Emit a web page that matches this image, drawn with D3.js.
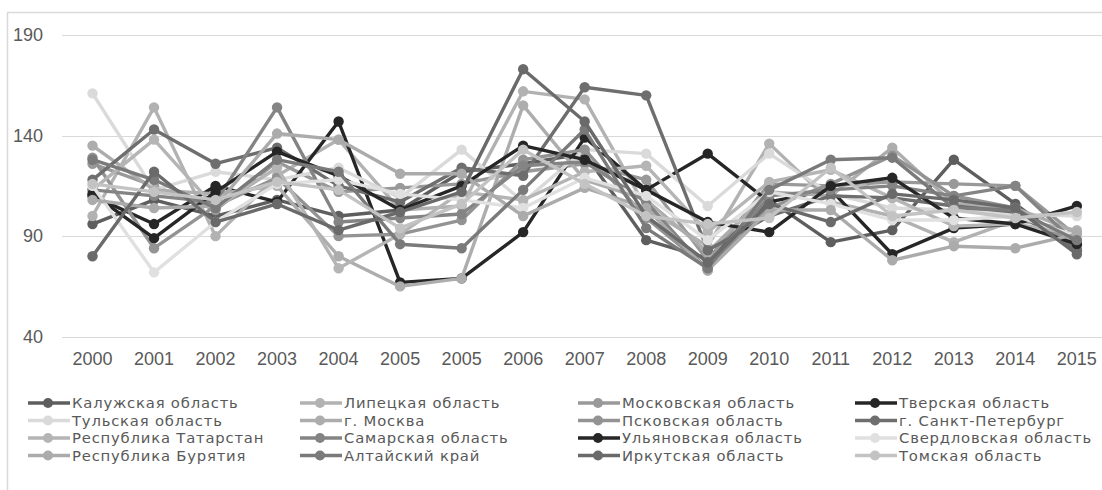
<!DOCTYPE html>
<html><head><meta charset="utf-8">
<script src="https://cdn.jsdelivr.net/npm/d3@7"></script>
<style>
html,body{margin:0;padding:0;background:#fff;}
svg{display:block;font-family:"Liberation Sans",Arial,sans-serif;}
</style></head>
<body><svg id="chart" width="1102" height="490"></svg>
<script>
const categories = ["2000","2001","2002","2003","2004","2005","2005","2006","2007","2008","2009","2010","2011","2012","2013","2014","2015"];
const yTicks = [40, 90, 140, 190];
const seriesNames = ["Калужская область","Липецкая область","Московская область","Тверская область",
  "Тульская область","г. Москва","Псковская область","г. Санкт-Петербург",
  "Республика Татарстан","Самарская область","Ульяновская область","Свердловская область",
  "Республика Бурятия","Алтайский край","Иркутская область","Томская область"];
const seriesColors = ["#5e5e5e","#b2b2b2","#999999","#262626",
  "#dadada","#adadad","#939393","#6e6e6e",
  "#b5b5b5","#848484","#262626","#e0e0e0",
  "#ababab","#7a7a7a","#6a6a6a","#c3c3c3"];
const kaluga     = [96,108,100,108,100,103,122,126,131,88,79,108,87,93,128,106,83];
const lipetsk    = [100,154,90,120,138,103,105,162,158,104,85,136,107,100,87,98,93];
const moscowObl  = [126,115,103,127,112,114,116,122,126,118,78,116,115,117,116,115,90];
const tver       = [110,96,115,107,147,67,69,92,139,113,131,107,113,81,94,96,105];
const tula       = [161,113,122,118,124,109,133,107,133,131,105,131,111,104,103,101,100];
const moscow     = [135,113,111,115,80,65,69,155,118,108,82,112,110,134,106,104,92];
const pskov      = [129,84,105,119,90,91,98,128,133,99,74,104,116,130,110,104,85];
const spb        = [118,143,126,134,115,107,124,120,164,160,83,100,110,109,105,102,83];
const tatarstan  = [113,138,104,124,74,91,112,108,122,125,92,117,123,109,95,96,91];
const samara     = [113,110,107,154,97,99,101,125,127,107,73,110,113,115,110,115,86];
const ulyanovsk  = [111,89,112,132,120,103,115,135,128,113,97,92,115,119,99,96,86];
const sverdlovsk = [115,72,97,116,118,111,108,104,119,110,88,112,106,98,98,100,90];
const buryatia   = [108,104,105,141,138,121,121,100,114,104,73,103,103,78,85,84,91];
const altai      = [128,118,104,128,122,86,84,113,143,94,74,113,128,129,104,103,88];
const irkutsk    = [80,122,97,106,93,102,112,173,147,100,77,106,97,111,108,104,81];
const tomsk      = [116,112,108,117,113,94,106,133,116,100,96,99,124,100,103,99,102];
const seriesValues = [kaluga,lipetsk,moscowObl,tver,tula,moscow,pskov,spb,
  tatarstan,samara,ulyanovsk,sverdlovsk,buryatia,altai,irkutsk,tomsk];

const svg = d3.select("#chart");
// outer chart frame
svg.append("rect").attr("x",7.5).attr("y",12.5).attr("width",1110).attr("height",490)
  .attr("fill","none").attr("stroke","#d9d9d9").attr("stroke-width",1.5);

const x = d3.scaleBand().domain(d3.range(categories.length)).range([61.75,1107.6]);
const y = d3.scaleLinear().domain([40,190]).range([336.7,35]);

// gridlines
svg.append("g").selectAll("line").data(yTicks).join("line")
  .attr("x1",62).attr("x2",1102)
  .attr("y1",d=>Math.round(y(d))+0.5).attr("y2",d=>Math.round(y(d))+0.5)
  .attr("stroke","#d9d9d9").attr("stroke-width",1.2);

// y axis labels
const yAxis = d3.axisLeft(y).tickValues(yTicks).tickSize(0).tickPadding(0);
const gy = svg.append("g").attr("transform","translate(43,0)").call(yAxis);
gy.select(".domain").remove();
gy.selectAll("text").attr("font-size",18).attr("fill","#595959")
  .attr("font-family","'Liberation Sans',Arial,sans-serif");

// x axis labels
const xAxis = d3.axisBottom(x).tickFormat(i=>categories[i]).tickSize(0).tickPadding(0);
const gx = svg.append("g").attr("transform","translate(0,352)").call(xAxis);
gx.select(".domain").remove();
gx.selectAll("text").attr("font-size",18).attr("fill","#595959")
  .attr("font-family","'Liberation Sans',Arial,sans-serif");

const cx = i => x(i) + x.bandwidth()/2;
const line = d3.line().x((d,i)=>cx(i)).y(d=>y(d));

const gs = svg.append("g").selectAll("g").data(seriesValues).join("g");
gs.append("path").attr("d",d=>line(d)).attr("fill","none")
  .attr("stroke",(d,i)=>seriesColors[i]).attr("stroke-width",3.4).attr("stroke-linejoin","round");
gs.selectAll("circle").data((d,si)=>d.map(v=>({v,si}))).join("circle")
  .attr("cx",(d,i)=>cx(i)).attr("cy",d=>y(d.v)).attr("r",5.2)
  .attr("fill",d=>seriesColors[d.si]);

// legend
const colX = [28, 300, 578, 855];
const rowY = [403, 420.5, 438, 455.5];
const lg = svg.append("g").selectAll("g").data(seriesNames).join("g")
  .attr("transform",(d,i)=>`translate(${colX[i%4]},${rowY[Math.floor(i/4)]})`);
lg.append("line").attr("x1",0).attr("x2",42).attr("y1",0).attr("y2",0)
  .attr("stroke",(d,i)=>seriesColors[i]).attr("stroke-width",3.4);
lg.append("circle").attr("cx",20).attr("cy",0).attr("r",5).attr("fill",(d,i)=>seriesColors[i]);
lg.append("text").attr("x",44).attr("y",0).attr("dy","0.36em").attr("font-size",14.8)
  .attr("letter-spacing","0.8px")
  .attr("font-family","'DejaVu Sans',sans-serif")
  .attr("fill","#595959").text(d=>d);
</script></body></html>
